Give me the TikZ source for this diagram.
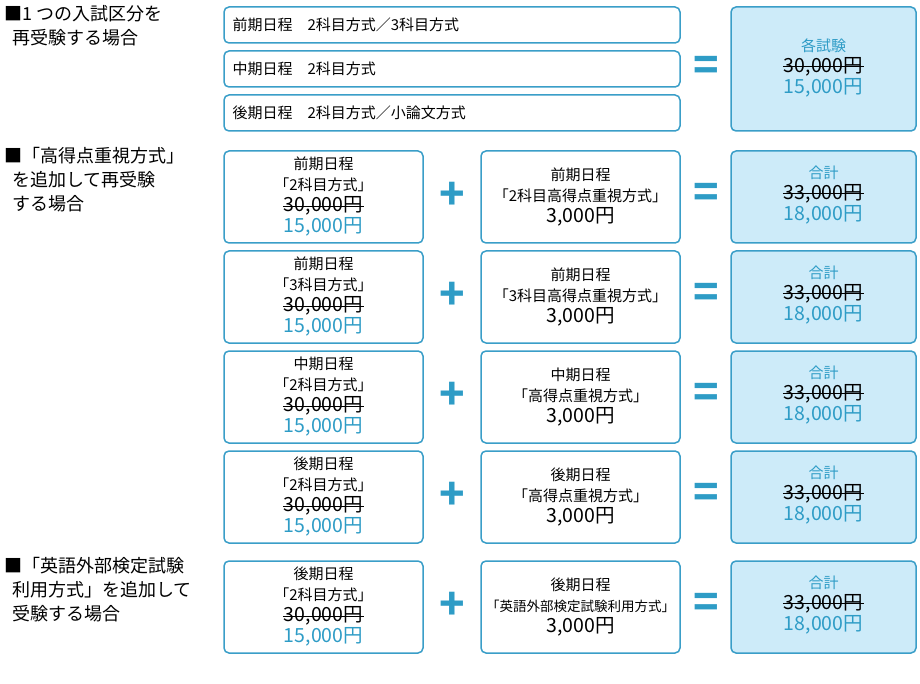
\documentclass[tikz,border=0pt]{standalone}
\usepackage{fontspec}
\setmainfont{Noto Sans CJK JP}
\definecolor{bd}{HTML}{3A9EC8}
\definecolor{lt}{HTML}{CDEBF9}
\definecolor{bt}{HTML}{2E9CC6}
\newcommand{\sk}[1]{\tikz[baseline=(s.base)]{\node[inner sep=0pt,outer sep=0pt] (s) {#1};\draw[line width=1pt] ([xshift=-1pt]s.west)--([xshift=1pt]s.east);}}
\begin{document}
\begin{tikzpicture}[x=1pt,y=-1pt,
 box/.style={draw=bd,line width=1.5pt,rounded corners=5pt,fill=white},
 tot/.style={box,fill=lt},
 lbl/.style={anchor=north west,align=left,font=\fontsize{18}{24}\selectfont,inner sep=0},
 txt/.style={align=center,font=\fontsize{15}{21}\selectfont},
 sym/.style={text=bt,font=\fontsize{42}{42}\selectfont\bfseries}]
\useasboundingbox (0,0) rectangle (920,684);
\newcommand{\pr}[1]{{\fontsize{19.5}{22}\selectfont #1}}
\newcommand{\bl}[1]{\textcolor{bt}{#1}}
% labels
\node[lbl] (l1) at (4,5) {■1 つの入試区分を\\\ \ 再受験する場合};
\node[lbl] (l2) at (4,147) {■「高得点重視方式」\\\ \ を追加して再受験\\\ \ する場合};
\node[lbl] (l3) at (4,557) {■「英語外部検定試験\\\ \ 利用方式」を追加して\\\ \ 受験する場合};
% row 1
\draw[box] (224,7) rectangle (680,43);
\draw[box] (224,51) rectangle (680,87);
\draw[box] (224,95) rectangle (680,131);
\node[txt,anchor=west] (t1) at (229,25) {前期日程\quad 2科目方式／3科目方式};
\node[txt,anchor=west] (t2) at (229,69) {中期日程\quad 2科目方式};
\node[txt,anchor=west] (t3) at (229,113) {後期日程\quad 2科目方式／小論文方式};
\node[sym] (e0) at (706,68) {=};
\draw[tot] (731,7) rectangle (916,131);
\node[txt] (r0) at (823.5,68) {\bl{各試験}\\\pr{\sk{30,000円}}\\\pr{\bl{15,000円}}};
% rows 2-6
\foreach \y/\s/\m in {151/{前期日程\\「2科目方式」}/{前期日程\\「2科目高得点重視方式」},
 251/{前期日程\\「3科目方式」}/{前期日程\\「3科目高得点重視方式」},
 351/{中期日程\\「2科目方式」}/{中期日程\\「高得点重視方式」},
 451/{後期日程\\「2科目方式」}/{後期日程\\「高得点重視方式」},
 561/{後期日程\\「2科目方式」}/{後期日程\\{\fontsize{13.5}{19}\selectfont「英語外部検定試験利用方式」}}}{
 \draw[box] (224,\y) rectangle (423,\y+92);
 \draw[box] (481,\y) rectangle (680,\y+92);
 \draw[tot] (731,\y) rectangle (916,\y+92);
 \node[txt,inner sep=0] (L\y) at (323.5,\y+46) {\s\\\pr{\sk{30,000円}}\\\pr{\bl{15,000円}}};
 \node[txt] (M\y) at (580.5,\y+46) {\m\\\pr{3,000円}};
 \node[sym] (P\y) at (452,\y+45) {+};
 \node[sym] (E\y) at (706,\y+44) {=};
 \node[txt] (R\y) at (823.5,\y+44) {\bl{合計}\\\pr{\sk{33,000円}}\\\pr{\bl{18,000円}}};
}
\end{tikzpicture}
\end{document}
